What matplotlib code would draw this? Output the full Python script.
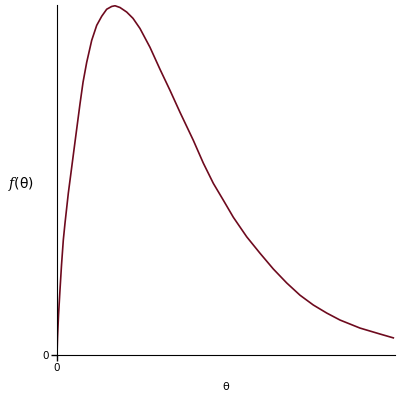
import matplotlib
matplotlib.use('Agg')
import matplotlib.pyplot as plt

# values
theta = [0.000, 0.009, 0.027, 0.053, 0.080, 0.112, 0.142, 0.201, 0.261, 0.320,
         0.408, 0.462, 0.527, 0.616, 0.705, 0.794, 0.882, 0.971, 1.030, 1.118,
         1.237, 1.349, 1.473, 1.651, 1.829, 2.006, 2.184, 2.420, 2.597, 2.775,
         2.952, 3.130, 3.368, 3.604, 3.840, 4.078, 4.314, 4.550, 4.788, 5.024,
         5.379, 5.734, 5.970]
density = [0.000, 0.049, 0.114, 0.186, 0.257, 0.329, 0.377, 0.463, 0.537, 0.610,
           0.718, 0.780, 0.837, 0.900, 0.943, 0.969, 0.989, 0.997, 0.999, 0.994,
           0.981, 0.963, 0.934, 0.880, 0.817, 0.757, 0.694, 0.614, 0.549, 0.491,
           0.443, 0.394, 0.338, 0.291, 0.246, 0.206, 0.171, 0.143, 0.120, 0.100,
           0.077, 0.060, 0.049]
x_ticks = [0]
y_ticks = [0]

plt.rcParams['mathtext.fontset'] = 'dejavuserif'

fig = plt.figure(figsize=(4, 4), dpi=100)
ax = fig.add_axes([0.1425, 0.1125, 0.845, 0.874])

ax.plot(theta, density, color='#6e0a1e', lw=1.2)

ax.set_xlim(0, 6)
ax.set_ylim(0, 1.0)
ax.spines['top'].set_visible(False)
ax.spines['right'].set_visible(False)
ax.set_xticks(x_ticks)
ax.set_yticks(y_ticks)
ax.tick_params(length=4, width=1, labelsize=7.5, pad=2)

ax.set_xlabel('θ', fontsize=8, labelpad=6.5)
ax.set_ylabel(r'$f$(θ)', fontsize=10, rotation=0, va='center', ha='center')
ax.yaxis.set_label_coords(-0.105, 0.49)

fig.savefig('out.png', dpi=100)
